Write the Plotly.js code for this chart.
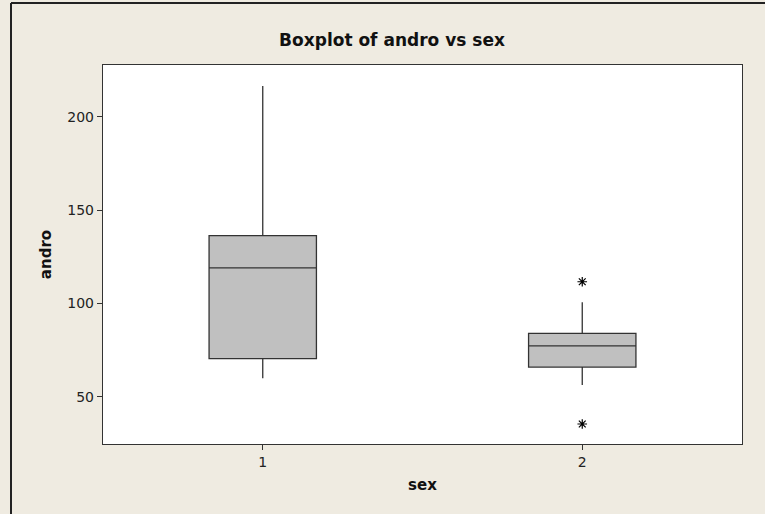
<!DOCTYPE html>
<html>
<head>
<meta charset="utf-8">
<script src="https://cdn.plot.ly/plotly-3.0.1.min.js"></script>
<style>html,body{margin:0;padding:0;background:#efebe1;}</style>
</head>
<body>
<div id="chart" style="width:765px;height:514px;"></div>
<script>
// Data
const categories = [1, 2];
const lowerWhisker = [59.9, 56.3];
const q1Values = [70.4, 65.9];
const medians = [119, 77.3];
const q3Values = [136.3, 84];
const upperWhisker = [216.5, 100.6];
const outlierSex = [2, 2];
const outlierAndro = [111.6, 35.4];

const traces = [
  {
    type: 'box',
    x: categories,
    q1: q1Values,
    median: medians,
    q3: q3Values,
    lowerfence: lowerWhisker,
    upperfence: upperWhisker,
    width: 0.336,
    whiskerwidth: 0,
    fillcolor: '#c0c0c0',
    line: {color: '#333333', width: 1.3},
    boxpoints: false,
    hoverinfo: 'skip',
    showlegend: false
  },
  {
    type: 'scatter',
    mode: 'markers',
    x: outlierSex,
    y: outlierAndro,
    marker: {symbol: 'asterisk-open', size: 8, color: '#000000', line: {color: '#000000', width: 1.2}},
    showlegend: false
  }
];

const layout = {
  width: 765,
  height: 514,
  paper_bgcolor: '#efebe1',
  plot_bgcolor: '#ffffff',
  margin: {l: 103, r: 23, t: 65, b: 70},
  font: {family: 'DejaVu Sans, Tahoma, sans-serif', size: 14, color: '#222222'},
  title: {
    text: '<b>Boxplot of andro vs sex</b>',
    font: {family: 'DejaVu Sans, sans-serif', size: 17, color: '#111111'},
    x: 392 / 765,
    xanchor: 'center',
    y: 1 - 40 / 514,
    yanchor: 'middle'
  },
  xaxis: {
    range: [0.5, 2.5],
    tickvals: categories,
    ticktext: ['1', '2'],
    ticks: 'outside',
    ticklen: 5,
    tickcolor: '#333333',
    showgrid: false,
    zeroline: false,
    showline: true,
    mirror: true,
    linecolor: '#333333',
    linewidth: 1.2,
    tickfont: {size: 14},
    title: {text: '<b>sex</b>', font: {size: 15, color: '#111111'}, standoff: 10}
  },
  yaxis: {
    range: [24.7, 227.7],
    tickvals: [50, 100, 150, 200],
    ticks: 'outside',
    ticklen: 5,
    tickcolor: '#333333',
    showgrid: false,
    zeroline: false,
    showline: true,
    mirror: true,
    linecolor: '#333333',
    linewidth: 1.2,
    tickfont: {size: 14},
    title: {text: '<b>andro</b>', font: {size: 15, color: '#111111'}, standoff: 12}
  },
  shapes: [
    {type: 'line', xref: 'paper', yref: 'paper', x0: (11 - 103) / 639, x1: (11 - 103) / 639, y0: -0.3, y1: 1 + (65 - 3) / 379, line: {color: '#222222', width: 2}},
    {type: 'line', xref: 'paper', yref: 'paper', x0: (11 - 103) / 639, x1: 1.1, y0: 1 + (65 - 3) / 379, y1: 1 + (65 - 3) / 379, line: {color: '#222222', width: 2}}
  ]
};

Plotly.newPlot('chart', traces, layout, {displayModeBar: false, staticPlot: true});
</script>
</body>
</html>
